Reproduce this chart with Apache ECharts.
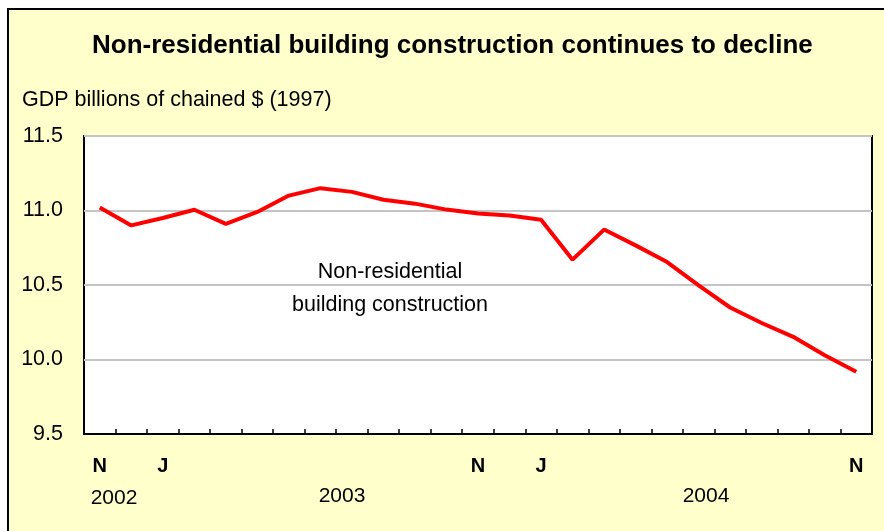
<!DOCTYPE html>
<html>
<head>
<meta charset="utf-8">
<script src="https://cdn.jsdelivr.net/npm/echarts@6/dist/echarts.min.js"></script>
<style>
  html, body { margin:0; padding:0; background:#ffffff; }
  #frame { position:absolute; left:7px; top:8px; width:900px; height:600px; border:2px solid #000; background:#FFFFCC; }
  #chart { position:absolute; left:0; top:0; width:884px; height:531px; }
</style>
</head>
<body>
<div id="frame"></div>
<div id="chart"></div>
<script>
// Months Nov 2002 .. Nov 2004
const months = ["N","D","J","F","M","A","M","J","J","A","S","O","N","D","J","F","M","A","M","J","J","A","S","O","N"];
const values = [11.02, 10.90, 10.95, 11.005, 10.91, 10.99, 11.10, 11.15, 11.125, 11.072, 11.046, 11.006, 10.98,
                10.967, 10.938, 10.67, 10.872, 10.766, 10.654, 10.498, 10.349, 10.245, 10.152, 10.029, 9.918];
const labelIndices = [0, 2, 12, 14, 24];
const yTicks = { min: 9.5, max: 11.5, interval: 0.5 };
const yearLabels = ["2002", "2003", "2004"];

const chart = echarts.init(document.getElementById('chart'), null, { renderer: 'canvas' });
const font = 'Arial, "Liberation Sans", Helvetica, sans-serif';

chart.setOption({
  backgroundColor: 'transparent',
  animation: false,
  title: {
    text: 'Non-residential building construction continues to decline',
    left: 87,
    top: 28,
    textStyle: { fontFamily: font, fontWeight: 'bold', fontSize: 26, color: '#000' }
  },
  grid: {
    left: 84, right: 12, top: 136, bottom: 97,
    show: true, backgroundColor: '#ffffff', borderColor: '#000', borderWidth: 2
  },
  xAxis: {
    type: 'category',
    data: months,
    boundaryGap: true,
    axisLine: { show: true, lineStyle: { color: '#000', width: 2 } },
    axisTick: { show: true, inside: true, length: 5, interval: 0, lineStyle: { color: '#000', width: 1.5 } },
    axisLabel: {
      interval: function (idx) { return labelIndices.indexOf(idx) >= 0; },
      margin: 22,
      fontFamily: font, fontWeight: 'bold', fontSize: 20, color: '#000'
    }
  },
  yAxis: {
    type: 'value',
    min: yTicks.min, max: yTicks.max, interval: yTicks.interval,
    axisLine: { show: false },
    axisTick: { show: false },
    axisLabel: {
      formatter: function (v) { return v.toFixed(1); },
      margin: 21, fontFamily: font, fontSize: 21.5, color: '#000'
    },
    splitLine: { show: true, lineStyle: { color: '#c4c4c4', width: 2 } }
  },
  series: [{
    type: 'line',
    data: values,
    symbol: 'none',
    lineStyle: { color: '#ff0000', width: 4 },
    z: 5
  }],
  graphic: [
    { type: 'text', x: 22, y: 100, style: { text: 'GDP billions of chained $ (1997)', font: '21.5px ' + font, fill: '#000', verticalAlign: 'middle' } },
    { type: 'text', x: 114, y: 498, style: { text: yearLabels[0], font: '21px ' + font, fill: '#000', align: 'center', verticalAlign: 'middle' } },
    { type: 'text', x: 342, y: 496, style: { text: yearLabels[1], font: '21px ' + font, fill: '#000', align: 'center', verticalAlign: 'middle' } },
    { type: 'text', x: 706, y: 496, style: { text: yearLabels[2], font: '21px ' + font, fill: '#000', align: 'center', verticalAlign: 'middle' } },
    { type: 'text', x: 390, y: 272, z: 10, style: { text: 'Non-residential', font: '21.5px ' + font, fill: '#000', align: 'center', verticalAlign: 'middle' } },
    { type: 'text', x: 390, y: 305, z: 10, style: { text: 'building construction', font: '21.5px ' + font, fill: '#000', align: 'center', verticalAlign: 'middle' } }
  ]
});
</script>
</body>
</html>
